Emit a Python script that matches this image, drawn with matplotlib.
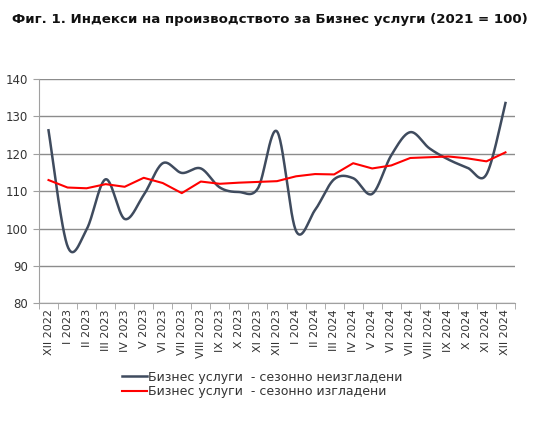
import numpy as np
import matplotlib
matplotlib.use("Agg")
import matplotlib.pyplot as plt
from matplotlib.ticker import FixedLocator, NullFormatter

categories = ["XII 2022", "I 2023", "II 2023", "III 2023", "IV 2023", "V 2023", "VI 2023",
              "VII 2023", "VIII 2023", "IX 2023", "X 2023", "XI 2023", "XII 2023",
              "I 2024", "II 2024", "III 2024", "IV 2024", "V 2024", "VI 2024",
              "VII 2024", "VIII 2024", "IX 2024", "X 2024", "XI 2024", "XII 2024"]
unadjusted = [126.3, 95.3, 99.8, 113.2, 102.6, 109.0, 117.5, 114.9, 116.1, 111.0, 109.8,
              110.8, 126.0, 99.4, 105.0, 113.2, 113.5, 109.3, 119.6, 125.8, 121.5, 118.5,
              116.3, 114.5, 133.6]
adjusted = [113.0, 111.0, 110.8, 111.9, 111.2, 113.6, 112.2, 109.5, 112.6, 112.0, 112.3,
            112.5, 112.7, 114.0, 114.6, 114.5, 117.5, 116.1, 116.9, 118.9, 119.1, 119.3,
            118.8, 118.0, 120.4]
label_unadj = "Бизнес услуги  - сезонно неизгладени"
label_adj = "Бизнес услуги  - сезонно изгладени"
title = "Фиг. 1. Индекси на производството за Бизнес услуги (2021 = 100)"


def smooth(x, y, n=30):
    x = np.asarray(x, float)
    y = np.asarray(y, float)
    xs, ys = [], []
    N = len(x)
    for i in range(N - 1):
        i0 = max(i - 1, 0)
        i3 = min(i + 2, N - 1)
        p0 = np.array([x[i0], y[i0]]); p1 = np.array([x[i], y[i]])
        p2 = np.array([x[i + 1], y[i + 1]]); p3 = np.array([x[i3], y[i3]])
        c1 = p1 + (p2 - p0) / 6.0
        c2 = p2 - (p3 - p1) / 6.0
        t = np.linspace(0, 1, n, endpoint=(i == N - 2))[:, None]
        pts = ((1 - t) ** 3) * p1 + 3 * ((1 - t) ** 2) * t * c1 + 3 * (1 - t) * t ** 2 * c2 + t ** 3 * p2
        xs.append(pts[:, 0]); ys.append(pts[:, 1])
    return np.concatenate(xs), np.concatenate(ys)


fig = plt.figure(figsize=(5.43, 4.32), dpi=100)
ax = fig.add_axes([0.0718, 0.2975, 0.8766, 0.5195])

x = np.arange(len(categories))
sx, sy = smooth(x, unadjusted)
l1, = ax.plot(sx, sy, color="#3f4b5e", lw=1.8, label=label_unadj, zorder=3)
l2, = ax.plot(x, adjusted, color="#ff0000", lw=1.5, label=label_adj, zorder=4)

ax.set_xlim(-0.5, len(categories) - 0.5)
ax.set_ylim(80, 140)
ax.set_yticks(np.arange(80, 141, 10))
ax.yaxis.grid(True, color="#8c8c8c", lw=1.0)
ax.set_axisbelow(True)

ax.set_xticks(x)
ax.set_xticklabels(categories, rotation=90, fontsize=8, color="#333333")
ax.tick_params(axis="x", which="major", length=0, pad=4)
ax.xaxis.set_minor_locator(FixedLocator(np.arange(-0.5, len(categories), 1)))
ax.xaxis.set_minor_formatter(NullFormatter())
ax.tick_params(axis="x", which="minor", length=4, color="#a0a0a0")
ax.tick_params(axis="y", length=4, color="#a0a0a0", labelsize=8.5, labelcolor="#333333", pad=4)

for s in ["top", "right"]:
    ax.spines[s].set_visible(False)
for s in ["left", "bottom"]:
    ax.spines[s].set_color("#a0a0a0")

fig.text(0.497, 0.955, title, ha="center", va="center", fontsize=9.6, fontweight="bold",
         color="#111111")

fig.legend(handles=[l1, l2], loc="center", bbox_to_anchor=(0.483, 0.11), frameon=False,
           fontsize=9, handlelength=2.0, handletextpad=0.1, labelspacing=0.1,
           labelcolor="#333333")

fig.savefig("out.png", dpi=100)
